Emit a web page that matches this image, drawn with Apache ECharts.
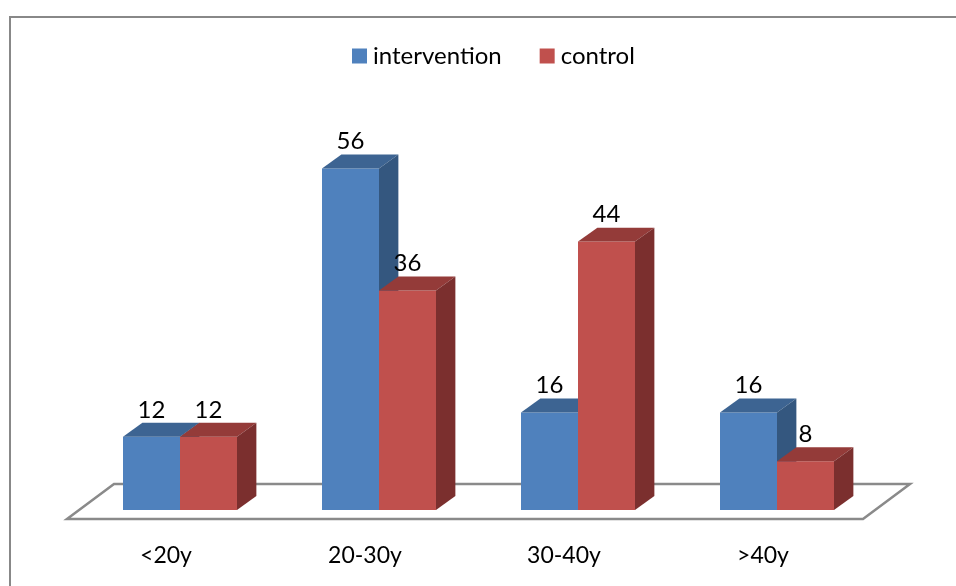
<!DOCTYPE html>
<html>
<head>
<meta charset="utf-8">
<script src="https://cdn.jsdelivr.net/npm/echarts@6/dist/echarts.min.js"></script>
<style>
html,body{margin:0;padding:0;background:#fff;}
#chart{width:956px;height:586px;}
</style>
</head>
<body>
<div id="chart"></div>
<script>
const categories = ['<20y', '20-30y', '30-40y', '>40y'];
const intervention = [12, 56, 16, 16];
const control = [12, 36, 44, 8];
const seriesNames = ['intervention', 'control'];

const palette = [
  { front: '#4F81BD', top: '#3D6492', side: '#34577F' },
  { front: '#C0504D', top: '#943B39', side: '#7B2F2E' }
];
const FONT = 'Lato, "Open Sans", sans-serif';

function barRenderer(s) {
  return function (params, api) {
    const idx = api.value(0);
    const val = api.value(1);
    const c = api.coord([idx, val]);
    const b = api.coord([idx, 0]);
    const catW = api.size([1, 0])[0];
    const w = catW * 0.2864;
    const x0 = c[0] + (s === 0 ? -w : 0);
    const x1 = x0 + w;
    const dx = w * 0.34, dy = -w * 0.245;
    const col = palette[s];
    return {
      type: 'group',
      children: [
        { type: 'rect', shape: { x: x0, y: c[1], width: w, height: b[1] - c[1] }, style: { fill: col.front } },
        { type: 'polygon', shape: { points: [[x0, c[1]], [x1, c[1]], [x1 + dx, c[1] + dy], [x0 + dx, c[1] + dy]] }, style: { fill: col.top } },
        { type: 'polygon', shape: { points: [[x1, c[1]], [x1 + dx, c[1] + dy], [x1 + dx, b[1] + dy], [x1, b[1]]] }, style: { fill: col.side } },
        { type: 'text', z2: 100, style: { x: (x0 + x1) / 2, y: c[1] - 27, text: String(val), fill: '#000', font: '24px ' + FONT, textAlign: 'center', textVerticalAlign: 'middle' } }
      ]
    };
  };
}

function floorRenderer(params, api) {
  const first = api.coord([0, 0]);
  const last = api.coord([categories.length - 1, 0]);
  const catW = api.size([1, 0])[0];
  const left = first[0] - catW / 2;
  const right = last[0] + catW / 2;
  const base = first[1];
  return {
    type: 'polygon',
    shape: { points: [[left - 13.5, base + 9], [right - 13.5, base + 9], [right + 33.5, base - 26], [left + 33.5, base - 26]] },
    style: { fill: '#fff', stroke: '#8a8a8a', lineWidth: 2.5 }
  };
}

const chart = echarts.init(document.getElementById('chart'));
chart.setOption({
  backgroundColor: '#fff',
  animation: false,
  graphic: [{
    type: 'rect', z: -10,
    shape: { x: 10, y: 17, width: 1000, height: 700 },
    style: { fill: 'none', stroke: '#888', lineWidth: 2 }
  }],
  legend: {
    data: seriesNames,
    left: 347, top: 39,
    itemWidth: 15, itemHeight: 15, itemGap: 38,
    icon: 'rect',
    textStyle: { fontSize: 24, fontFamily: FONT, color: '#000', padding: [0, 0, 0, 1] }
  },
  grid: { left: 80.5, right: 79.5, top: 144, bottom: 76 },
  xAxis: {
    type: 'category',
    data: categories,
    axisLine: { show: false },
    axisTick: { show: false },
    axisLabel: { fontSize: 23, fontFamily: FONT, color: '#000', margin: 34, padding: [0, 28, 0, 0] }
  },
  yAxis: { type: 'value', min: 0, max: 60, show: false },
  series: [
    { type: 'custom', name: 'floor', renderItem: floorRenderer, data: [[0]], z: 1, silent: true },
    { type: 'custom', name: seriesNames[0], itemStyle: { color: palette[0].front }, renderItem: barRenderer(0), data: intervention.map((v, i) => [i, v]), z: 2 },
    { type: 'custom', name: seriesNames[1], itemStyle: { color: palette[1].front }, renderItem: barRenderer(1), data: control.map((v, i) => [i, v]), z: 3 }
  ]
});
</script>
</body>
</html>
